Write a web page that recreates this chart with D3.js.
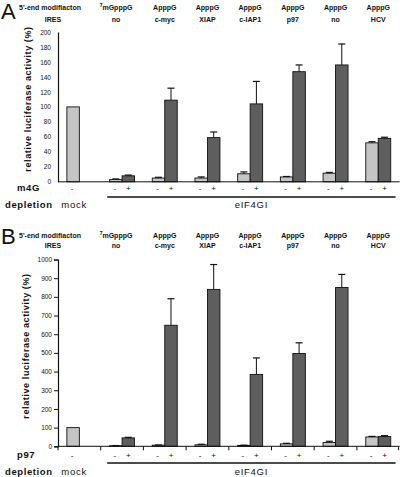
<!DOCTYPE html>
<html><head><meta charset="utf-8">
<script src="https://cdn.jsdelivr.net/npm/d3@7"></script>
<style>body{margin:0;background:#fff} svg{display:block} text{font-family:"Liberation Sans",Arial,sans-serif;fill:#111}</style>
</head><body>
<svg id="c" width="400" height="477"></svg>
<script>
// ---- data ----
const categories = ['mock', '7mGpppG|no', 'ApppG|c-myc', 'ApppG|XIAP', 'ApppG|c-IAP1', 'ApppG|p97', 'ApppG|no', 'ApppG|HCV'];
const capSup = ['', '7', '', '', '', '', '', ''];
const capLabels = ['', 'mGpppG', 'ApppG', 'ApppG', 'ApppG', 'ApppG', 'ApppG', 'ApppG'];
const iresLabels = ['', 'no', 'c-myc', 'XIAP', 'c-IAP1', 'p97', 'no', 'HCV'];
const conditions = ['-', '+'];
const depletion = ['mock', 'eIF4GI'];

// Panel A (m4G)
const aMinus    = [100, 3, 5, 5, 10.7, 6.5, 11.5, 52];
const aMinusErr = [0, 0.8, 1, 1.5, 2.5, 0.6, 1, 1.5];
const aPlus     = [null, 8, 109, 59, 104, 147, 156, 58];
const aPlusErr  = [null, 1, 16, 7.5, 30, 9, 28, 1.5];
const aTicks = [0, 20, 40, 60, 80, 100, 120, 140, 160, 180, 200];

// Panel B (p97)
const bMinus    = [100, 3, 6, 8, 5, 13, 20, 50];
const bMinusErr = [0, 1, 1, 3, 1, 3, 7, 3];
const bPlus     = [null, 45, 648, 840, 385, 497, 850, 52];
const bPlusErr  = [null, 3, 142, 133, 88, 57, 70, 5];
const bTicks = [0, 100, 200, 300, 400, 500, 600, 700, 800, 900, 1000];

// ---- drawing ----
const svg = d3.select('#c');
const LIGHT = '#c4c4c4', DARK = '#5e5e5e';

const x = d3.scaleBand().domain(categories).range([58, 399.6]).paddingInner(0).paddingOuter(0);
const inner = d3.scaleBand().domain(conditions).range([0, x.bandwidth()]).paddingInner(0).paddingOuter(0.71);

function panel(cfg) {
  const g = svg.append('g');
  const y = d3.scaleLinear().domain([0, cfg.max]).range([cfg.y0, cfg.y1]);

  // Panel letter
  g.append('text').attr('x', 1).attr('y', cfg.letterY).attr('font-size', 22).text(cfg.letter);

  // header rows
  g.append('text').attr('x', 19).attr('y', cfg.hY1).attr('font-size', 7).attr('font-weight', 'bold')
    .text("5'-end modifiacton");
  g.append('text').attr('x', 53).attr('y', cfg.hY2).attr('font-size', 7).attr('font-weight', 'bold')
    .attr('text-anchor', 'middle').text('IRES');
  categories.forEach((c, i) => {
    if (i === 0) return;
    const cx = x(c) + x.bandwidth() / 2 - (i === 1 ? 6 : 0);
    const t = g.append('text').attr('x', cx).attr('y', cfg.hY1).attr('font-size', 7).attr('font-weight', 'bold')
      .attr('text-anchor', 'middle');
    if (capSup[i]) t.append('tspan').attr('font-size', 5).attr('dy', -2.5).text(capSup[i]);
    t.append('tspan').attr('dy', capSup[i] ? 2.5 : 0).text(capLabels[i]);
    g.append('text').attr('x', cx).attr('y', cfg.hY2).attr('font-size', 7).attr('font-weight', 'bold')
      .attr('text-anchor', 'middle').text(iresLabels[i]);
  });

  // y axis
  const ax = d3.axisLeft(y).tickValues(cfg.ticks).tickFormat(d3.format('d')).tickSizeOuter(0)
    .tickSize(cfg.tickMarks ? 4 : 0).tickPadding(cfg.tickMarks ? 2 : 7);
  const ga = g.append('g').attr('transform', 'translate(58,0)').call(ax);
  ga.selectAll('text').attr('font-size', 6.5).style('font-family', '"Liberation Sans",Arial,sans-serif').attr('fill', '#222');
  ga.select('.domain').attr('stroke', '#111').attr('stroke-width', 1.2);
  ga.selectAll('.tick line').attr('stroke', '#111');

  // y title
  g.append('text').attr('transform', `translate(${cfg.titleX},${cfg.titleY}) rotate(-90)`)
    .attr('text-anchor', 'middle').attr('font-size', 9).attr('font-weight', 'bold')
    .attr('letter-spacing', 0.6).text('relative luciferase activity (%)');

  // bars
  const rows = [];
  categories.forEach((c, i) => {
    rows.push({c, k: '-', v: cfg.minus[i], e: cfg.minusErr[i]});
    if (cfg.plus[i] != null) rows.push({c, k: '+', v: cfg.plus[i], e: cfg.plusErr[i]});
  });
  const bw = inner.bandwidth();
  g.selectAll('rect.bar').data(rows).join('rect').attr('class', 'bar')
    .attr('x', d => x(d.c) + inner(d.k)).attr('width', bw)
    .attr('y', d => y(d.v)).attr('height', d => y(0) - y(d.v))
    .attr('fill', d => d.k === '-' ? LIGHT : DARK).attr('stroke', '#111').attr('stroke-width', 0.9);
  // error bars
  const eb = rows.filter(d => d.e > 0);
  g.selectAll('line.err').data(eb).join('line').attr('class', 'err')
    .attr('x1', d => x(d.c) + inner(d.k) + bw / 2).attr('x2', d => x(d.c) + inner(d.k) + bw / 2)
    .attr('y1', d => y(d.v)).attr('y2', d => y(d.v + d.e)).attr('stroke', '#111').attr('stroke-width', 1);
  g.selectAll('line.cap').data(eb).join('line').attr('class', 'cap')
    .attr('x1', d => x(d.c) + inner(d.k) + bw / 2 - 3.5).attr('x2', d => x(d.c) + inner(d.k) + bw / 2 + 3.5)
    .attr('y1', d => y(d.v + d.e)).attr('y2', d => y(d.v + d.e)).attr('stroke', '#111').attr('stroke-width', 1.2);

  // baseline
  g.append('line').attr('x1', 58).attr('x2', x.range()[1]).attr('y1', y(0)).attr('y2', y(0))
    .attr('stroke', '#111').attr('stroke-width', 1);
  if (cfg.tickMarks) {
    const bounds = categories.map(c => x(c)).concat([x.range()[1] - 1]);
    g.selectAll('line.xt').data(bounds).join('line').attr('class', 'xt')
      .attr('x1', d => d).attr('x2', d => d).attr('y1', y(0)).attr('y2', y(0) + 4)
      .attr('stroke', '#111').attr('stroke-width', 1);
  }

  // condition row
  g.append('text').attr('x', 17).attr('y', cfg.rowY).attr('font-size', 9.5).attr('font-weight', 'bold')
    .attr('letter-spacing', 0.6).text(cfg.rowLabel);
  g.selectAll('text.pm').data(rows).join('text').attr('class', 'pm')
    .attr('x', d => x(d.c) + inner(d.k) + bw / 2 + (d.k === '-' ? -1 : 0))
    .attr('y', cfg.rowY).attr('text-anchor', 'middle').attr('font-size', 8).text(d => d.k);

  // depletion row
  g.append('text').attr('x', 5).attr('y', cfg.depY).attr('font-size', 9.5).attr('font-weight', 'bold')
    .attr('letter-spacing', 0.6).text('depletion');
  g.append('text').attr('x', x(categories[0]) + inner('-') + bw / 2 + 1).attr('y', cfg.depY)
    .attr('text-anchor', 'middle').attr('font-size', 9.5).attr('letter-spacing', 0.7).text(depletion[0]);
  const lx1 = x(categories[1]) + 6.5, lx2 = x.range()[1] - 4;
  g.append('line').attr('x1', lx1).attr('x2', lx2).attr('y1', cfg.lineY).attr('y2', cfg.lineY)
    .attr('stroke', '#111').attr('stroke-width', 1.3);
  g.append('text').attr('x', (lx1 + lx2) / 2).attr('y', cfg.depY)
    .attr('text-anchor', 'middle').attr('font-size', 9.5).attr('letter-spacing', 0.7).text(depletion[1]);
}

panel({letter: 'A', letterY: 19, hY1: 9.5, hY2: 21.5, max: 200, y0: 181.8, y1: 32,
  ticks: aTicks, tickMarks: false, titleX: 31, titleY: 99,
  minus: aMinus, minusErr: aMinusErr, plus: aPlus, plusErr: aPlusErr,
  rowLabel: 'm4G', rowY: 191, lineY: 197, depY: 207.5});

panel({letter: 'B', letterY: 244, hY1: 237.5, hY2: 248, max: 1000, y0: 446.3, y1: 259.5,
  ticks: bTicks, tickMarks: true, titleX: 29, titleY: 346,
  minus: bMinus, minusErr: bMinusErr, plus: bPlus, plusErr: bPlusErr,
  rowLabel: 'p97', rowY: 457.5, lineY: 463, depY: 475});
</script>
</body></html>
